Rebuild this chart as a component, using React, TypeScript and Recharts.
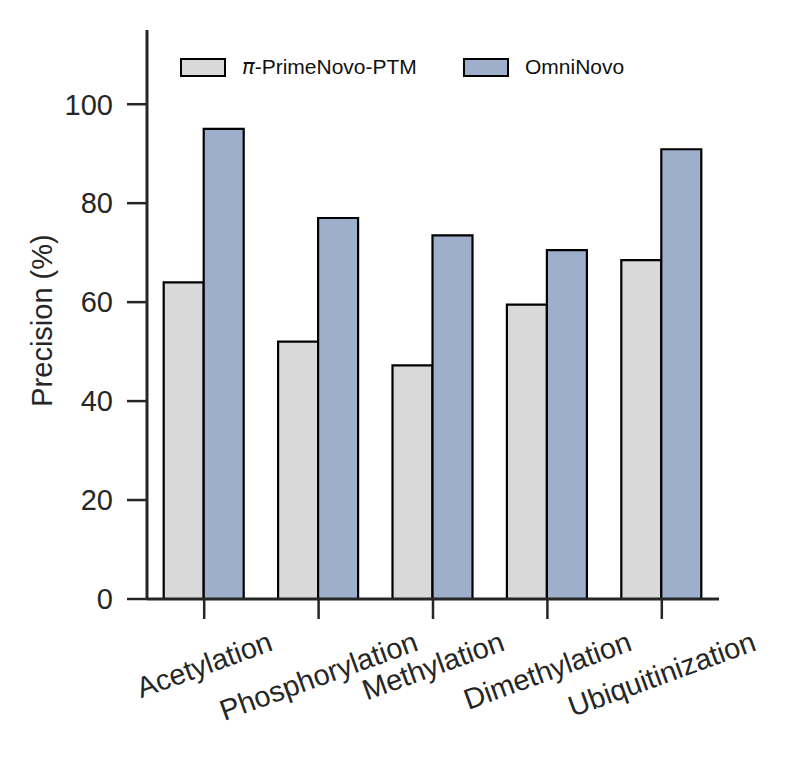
import React from 'react';
import { BarChart, Bar, XAxis, YAxis } from 'recharts';

const categories = ['Acetylation', 'Phosphorylation', 'Methylation', 'Dimethylation', 'Ubiquitinization'];
const primeNovoValues = [64, 52, 47.2, 59.5, 68.5];
const omniNovoValues = [95, 77, 73.5, 70.5, 90.9];
const yTicks = [0, 20, 40, 60, 80, 100];
const seriesNames = ['PrimeNovo-PTM', 'OmniNovo'];

const data = categories.map((name, i) => ({
  name,
  prime: primeNovoValues[i],
  omni: omniNovoValues[i],
}));

const FONT = '"Liberation Sans", Arial, Helvetica, sans-serif';
const TEXT = '#262626';
const AXIS = '#262626';
const GREY = '#d9d9d9';
const BLUE = '#9eafcc';

let ctx: CanvasRenderingContext2D | null = null;
const measure = (s: string, size: number) => {
  if (!ctx) ctx = document.createElement('canvas').getContext('2d');
  if (!ctx) return s.length * size * 0.55;
  ctx.font = `${size}px ${FONT}`;
  return ctx.measureText(s).width;
};

const TICK_SIZE = 29;
const ANGLE = 20;

const XTick = (props: any) => {
  const { x, y, payload } = props;
  const s = String(payload.value);
  const w = measure(s, TICK_SIZE);
  const rad = (ANGLE * Math.PI) / 180;
  const extent = w * Math.sin(rad) + 20 * Math.cos(rad);
  const cy = y + 12 + extent / 2;
  return (
    <text
      x={x}
      y={cy}
      textAnchor="middle"
      dominantBaseline="central"
      transform={`rotate(-${ANGLE}, ${x}, ${cy})`}
      fontSize={TICK_SIZE}
      fontFamily={FONT}
      fill={TEXT}
    >
      {s}
    </text>
  );
};

const YLabel = (props: any) => {
  const vb = props.viewBox || { x: 0, y: 0, width: 0, height: 0 };
  const cx = 34;
  const cy = vb.y + vb.height / 2 + 6;
  return (
    <text
      x={cx}
      y={cy}
      textAnchor="middle"
      dominantBaseline="central"
      transform={`rotate(-90, ${cx}, ${cy})`}
      fontSize={TICK_SIZE}
      fontFamily={FONT}
      fill={TEXT}
    >
      Precision (%)
    </text>
  );
};

const legendItems = [
  { key: 'prime', color: GREY, name: seriesNames[0], pi: true },
  { key: 'omni', color: BLUE, name: seriesNames[1], pi: false },
];

const LegendBox = () => (
  <div
    style={{
      position: 'absolute',
      left: 172,
      top: 47,
      display: 'flex',
      fontFamily: FONT,
      fontSize: 21,
      color: '#111',
      pointerEvents: 'none',
    }}
  >
    {legendItems.map((it) => (
      <div key={it.key} style={{ display: 'flex', alignItems: 'center', width: 283 }}>
        <div
          style={{
            width: 42,
            height: 15,
            background: it.color,
            border: '2px solid #000',
            marginRight: 16,
          }}
        />
        <span>
          {it.pi ? <i style={{ fontFamily: '"DejaVu Sans", sans-serif' }}>π</i> : null}
          {it.pi ? '-' : ''}
          {it.name}
        </span>
      </div>
    ))}
  </div>
);

export default function App() {
  return (
    <div style={{ width: 786, height: 749, position: 'relative' }}>
      <BarChart
        width={786}
        height={749}
        data={data}
        margin={{ top: 22, right: 75, bottom: 8, left: 20 }}
        barCategoryGap="14.6%"
        barGap={0}
      >
        <XAxis
          dataKey="name"
          interval={0}
          height={150}
          tickSize={20}
          tickMargin={0}
          axisLine={{ stroke: AXIS, strokeWidth: 3 }}
          tickLine={{ stroke: AXIS, strokeWidth: 2.5 }}
          tick={XTick}
        />
        <YAxis
          width={119}
          domain={[0, 115]}
          ticks={yTicks}
          tickSize={20}
          tickMargin={14}
          axisLine={{ stroke: AXIS, strokeWidth: 3 }}
          tickLine={{ stroke: AXIS, strokeWidth: 2.5 }}
          tick={{ fontSize: TICK_SIZE, fontFamily: FONT, fill: TEXT }}
          label={YLabel}
        />
        <Bar dataKey="prime" name={seriesNames[0]} fill={GREY} stroke="#000" strokeWidth={2.2} isAnimationActive={false} />
        <Bar dataKey="omni" name={seriesNames[1]} fill={BLUE} stroke="#000" strokeWidth={2.2} isAnimationActive={false} />
      </BarChart>
      <LegendBox />
    </div>
  );
}
